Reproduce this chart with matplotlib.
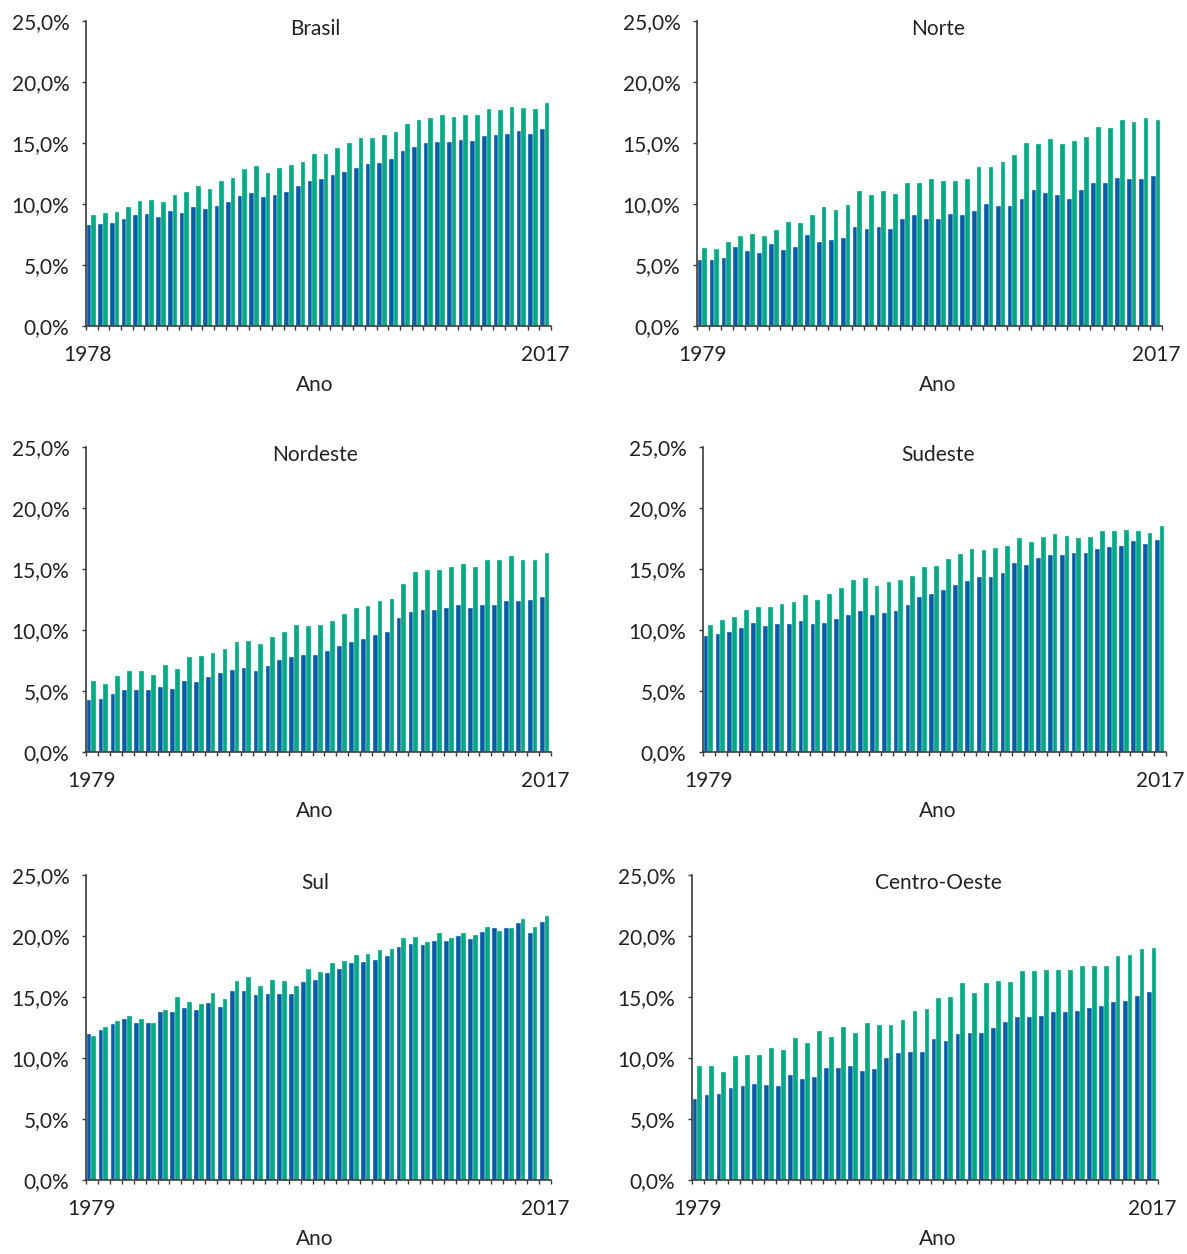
import matplotlib
matplotlib.use("Agg")
import matplotlib.pyplot as plt
import numpy as np

plt.rcParams['font.family'] = ['Lato', 'DejaVu Sans']

# Share of the population, per region and year (two series per year)
brasil_years = list(range(1978, 2018))
region_years = list(range(1979, 2018))

brasil_a = [8.27, 8.35, 8.46, 8.76, 9.07, 9.15, 8.96, 9.40, 9.26, 9.75,
            9.56, 9.86, 10.16, 10.66, 10.88, 10.55, 10.77, 10.96, 11.46, 11.87,
            12.06, 12.36, 12.66, 12.97, 13.27, 13.38, 13.68, 14.37, 14.67, 14.97,
            15.05, 15.05, 15.27, 15.16, 15.58, 15.66, 15.77, 15.96, 15.77, 16.18]
brasil_b = [9.07, 9.26, 9.37, 9.75, 10.27, 10.36, 10.16, 10.77, 10.96, 11.46,
            11.26, 11.87, 12.17, 12.86, 13.08, 12.58, 12.97, 13.19, 13.46, 14.07,
            14.07, 14.56, 14.97, 15.38, 15.38, 15.66, 15.88, 16.57, 16.87, 17.09,
            17.28, 17.17, 17.28, 17.28, 17.80, 17.69, 17.97, 17.88, 17.80, 18.27]

norte_a = [5.38, 5.38, 5.55, 6.46, 6.18, 5.96, 6.70, 6.26, 6.46, 7.45,
           6.87, 7.06, 7.25, 8.08, 7.97, 8.08, 7.97, 8.76, 9.07, 8.76,
           8.76, 9.18, 9.07, 9.45, 9.97, 9.86, 9.86, 10.38, 11.18, 10.88,
           10.77, 10.38, 11.18, 11.76, 11.76, 12.17, 12.06, 12.06, 12.28]
norte_b = [6.43, 6.29, 6.92, 7.34, 7.53, 7.34, 7.83, 8.52, 8.41, 9.12,
           9.73, 9.51, 9.92, 11.04, 10.71, 11.04, 10.82, 11.73, 11.73, 12.03,
           11.92, 11.92, 12.03, 13.02, 13.02, 13.43, 14.04, 15.03, 14.95, 15.33,
           14.95, 15.14, 15.52, 16.32, 16.24, 16.92, 16.73, 17.03, 16.92]

nordeste_a = [4.23, 4.37, 4.75, 5.05, 5.05, 5.05, 5.36, 5.14, 5.85, 5.74,
              6.15, 6.46, 6.76, 6.87, 6.68, 7.06, 7.55, 7.77, 7.97, 7.97,
              8.27, 8.65, 8.98, 9.26, 9.56, 9.86, 10.96, 11.48, 11.68, 11.68,
              11.79, 12.09, 11.79, 12.01, 12.09, 12.39, 12.39, 12.47, 12.69]
nordeste_b = [5.80, 5.60, 6.21, 6.62, 6.62, 6.29, 7.12, 6.81, 7.75, 7.83,
              8.13, 8.43, 9.01, 9.12, 8.82, 9.42, 9.84, 10.44, 10.33, 10.44,
              10.74, 11.32, 11.81, 11.95, 12.34, 12.53, 13.74, 14.75, 14.95, 14.95,
              15.16, 15.44, 15.16, 15.77, 15.77, 16.04, 15.77, 15.77, 16.35]

sudeste_a = [9.48, 9.64, 9.86, 10.16, 10.55, 10.36, 10.47, 10.47, 10.74, 10.47,
             10.55, 10.88, 11.26, 11.54, 11.26, 11.37, 11.54, 12.06, 12.69, 12.97,
             13.30, 13.68, 13.98, 14.37, 14.37, 14.67, 15.47, 15.36, 15.88, 16.18,
             16.18, 16.29, 16.29, 16.68, 16.79, 16.87, 17.28, 17.09, 17.39]
sudeste_b = [10.38, 10.80, 11.10, 11.62, 11.92, 11.92, 12.12, 12.31, 12.83, 12.42,
             12.91, 13.43, 14.12, 14.23, 13.60, 13.93, 14.12, 14.42, 15.14, 15.22,
             15.82, 16.24, 16.62, 16.54, 16.73, 16.92, 17.53, 17.23, 17.64, 17.83,
             17.72, 17.53, 17.64, 18.13, 18.13, 18.21, 18.13, 17.94, 18.52]

sul_a = [11.96, 12.29, 12.75, 13.16, 12.89, 12.86, 13.79, 13.79, 14.07, 13.96,
         14.48, 14.18, 15.47, 15.47, 15.16, 15.27, 15.27, 15.27, 16.26, 16.37,
         16.97, 17.27, 17.77, 17.88, 18.07, 18.37, 19.08, 19.38, 19.27, 19.58,
         19.58, 19.99, 19.77, 20.34, 20.67, 20.67, 21.08, 20.26, 21.16]
sul_b = [11.82, 12.53, 13.03, 13.41, 13.22, 12.84, 13.90, 15.03, 14.62, 14.42,
         15.33, 14.81, 16.32, 16.62, 15.90, 16.42, 16.32, 15.90, 17.30, 17.03,
         17.82, 17.93, 18.42, 18.53, 18.84, 18.95, 19.85, 19.93, 19.52, 20.23,
         19.82, 20.23, 20.12, 20.73, 20.42, 20.62, 21.41, 20.73, 21.63]

co_a = [6.67, 6.97, 7.08, 7.55, 7.68, 7.88, 7.77, 7.68, 8.59, 8.26,
        8.48, 9.16, 9.16, 9.38, 8.97, 9.08, 9.96, 10.37, 10.48, 10.48,
        11.58, 11.36, 11.96, 12.07, 12.07, 12.48, 12.97, 13.36, 13.36, 13.47,
        13.77, 13.77, 13.88, 14.07, 14.29, 14.59, 14.70, 15.08, 15.38]
co_b = [9.33, 9.33, 8.84, 10.15, 10.23, 10.23, 10.84, 10.62, 11.63, 11.22,
        12.23, 11.71, 12.53, 12.04, 12.84, 12.73, 12.73, 13.14, 13.85, 14.04,
        14.95, 15.03, 16.15, 15.36, 16.15, 16.34, 16.26, 17.14, 17.14, 17.25,
        17.25, 17.25, 17.55, 17.55, 17.55, 18.34, 18.45, 18.95, 19.03]

titles = ["Brasil", "Norte", "Nordeste", "Sudeste", "Sul", "Centro-Oeste"]
panels = [
    (brasil_years, brasil_a, brasil_b),
    (region_years, norte_a, norte_b),
    (region_years, nordeste_a, nordeste_b),
    (region_years, sudeste_a, sudeste_b),
    (region_years, sul_a, sul_b),
    (region_years, co_a, co_b),
]
y_ticks = [0, 5, 10, 15, 20, 25]
y_labels = ["0,0%", "5,0%", "10,0%", "15,0%", "20,0%", "25,0%"]

BLUE = "#0b5aa8"
GREEN = "#00a884"
EDGE = "#d6eee8"
INK = "#222222"
SPINE = "#3c3c3c"

W, H = 1187, 1254
fig = plt.figure(figsize=(W / 100, H / 100), dpi=100)

# axes boxes in pixels: left, right, top, bottom, and the x centre of the panel texts
boxes = [
    (86, 551, 21, 326, 315),
    (697, 1162, 21, 326, 938),
    (86, 551, 447, 752, 315),
    (703, 1166, 447, 752, 938),
    (86, 551, 875, 1180, 315),
    (692, 1158, 875, 1180, 938),
]

for k, ((years, a, b), title, (l, r, t, btm, cx)) in enumerate(zip(panels, titles, boxes)):
    ax = fig.add_axes([l / W, 1 - btm / H, (r - l) / W, (btm - t) / H])
    n = len(years)
    x = np.arange(n)
    bw = 0.40
    ax.bar(x + 0.06, a, width=bw, align="edge", color=BLUE,
           edgecolor=EDGE, linewidth=0.3, zorder=2)
    ax.bar(x + 0.06 + bw, b, width=bw, align="edge", color=GREEN,
           edgecolor=EDGE, linewidth=0.3, zorder=2)

    ax.set_xlim(0, n)
    ax.set_ylim(0, 25)
    for s in ("top", "right"):
        ax.spines[s].set_visible(False)
    for s in ("left", "bottom"):
        ax.spines[s].set_color(SPINE)
        ax.spines[s].set_linewidth(1.2)
        ax.spines[s].set_zorder(3)

    ax.set_yticks(y_ticks)
    ax.set_yticklabels(y_labels)
    ax.tick_params(axis="y", direction="out", length=3, width=1.0,
                   color=SPINE, labelsize=15, labelcolor=INK, pad=9)

    ax.set_xticks(np.arange(n + 1))
    ax.set_xticklabels([])
    ax.tick_params(axis="x", which="major", direction="out", length=3,
                   width=1.0, color=SPINE)
    first = 0.1 if k == 0 else 0.5
    ax.set_xticks([first, n - 0.5], [str(years[0]), str(years[-1])], minor=True)
    ax.tick_params(axis="x", which="minor", length=0, labelsize=15,
                   labelcolor=INK, pad=14)

    # panel title and axis caption, centred on the panel column
    fx = cx / W
    fig.text(fx, 1 - (t + 8) / H, title, ha="center", va="center",
             fontsize=15, color=INK)
    fig.text(fx, 1 - (btm + 59) / H, "Ano", ha="center", va="center",
             fontsize=15, color=INK)

fig.savefig("out.png", dpi=100, facecolor="white")
